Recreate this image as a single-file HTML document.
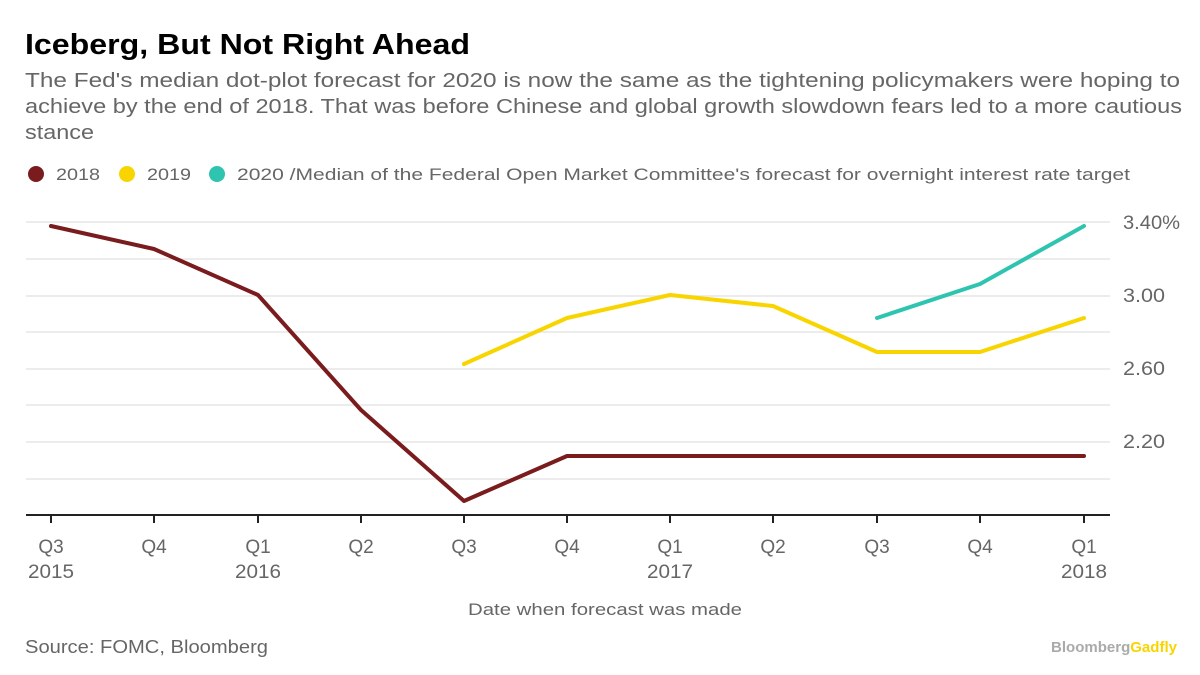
<!DOCTYPE html>
<html><head><style>
body{margin:0;width:1200px;height:670px;background:#fff;font-family:"Liberation Sans",sans-serif;overflow:hidden}
</style></head><body>
<svg width="1200" height="670" xmlns="http://www.w3.org/2000/svg" font-family="Liberation Sans, sans-serif">
<text x="25" y="54" font-size="29" font-weight="bold" fill="#000" textLength="445" lengthAdjust="spacingAndGlyphs">Iceberg, But Not Right Ahead</text>
<g fill="#666" font-size="20">
<text x="25" y="87" textLength="1155" lengthAdjust="spacingAndGlyphs">The Fed's median dot-plot forecast for 2020 is now the same as the tightening policymakers were hoping to</text>
<text x="25" y="113" textLength="1157" lengthAdjust="spacingAndGlyphs">achieve by the end of 2018. That was before Chinese and global growth slowdown fears led to a more cautious</text>
<text x="25" y="139" textLength="69" lengthAdjust="spacingAndGlyphs">stance</text>
</g>
<g font-size="17" fill="#666">
<circle cx="36" cy="174" r="8" fill="#7a1c1e"/><text x="56" y="180" textLength="44" lengthAdjust="spacingAndGlyphs">2018</text>
<circle cx="127" cy="174" r="8" fill="#f8d500"/><text x="147" y="180" textLength="44" lengthAdjust="spacingAndGlyphs">2019</text>
<circle cx="217" cy="174" r="8" fill="#2ec4b0"/><text x="237" y="180" textLength="893" lengthAdjust="spacingAndGlyphs">2020 /Median of the Federal Open Market Committee's forecast for overnight interest rate target</text>
</g>
<g stroke="#ececec" stroke-width="2">
<line x1="26" x2="1110" y1="222" y2="222"/><line x1="26" x2="1110" y1="259" y2="259"/><line x1="26" x2="1110" y1="296" y2="296"/><line x1="26" x2="1110" y1="332" y2="332"/><line x1="26" x2="1110" y1="369" y2="369"/><line x1="26" x2="1110" y1="405" y2="405"/><line x1="26" x2="1110" y1="442" y2="442"/><line x1="26" x2="1110" y1="479" y2="479"/>
</g>
<line x1="26" x2="1110" y1="515" y2="515" stroke="#222" stroke-width="2"/>
<g stroke="#222" stroke-width="2">
<line x1="51" x2="51" y1="515" y2="523"/><line x1="154" x2="154" y1="515" y2="523"/><line x1="258" x2="258" y1="515" y2="523"/><line x1="361" x2="361" y1="515" y2="523"/><line x1="464" x2="464" y1="515" y2="523"/><line x1="567" x2="567" y1="515" y2="523"/><line x1="670" x2="670" y1="515" y2="523"/><line x1="773" x2="773" y1="515" y2="523"/><line x1="877" x2="877" y1="515" y2="523"/><line x1="980" x2="980" y1="515" y2="523"/><line x1="1084" x2="1084" y1="515" y2="523"/>
</g>
<g font-size="19" fill="#666" text-anchor="middle">
<text x="51" y="553">Q3</text><text x="154" y="553">Q4</text><text x="258" y="553">Q1</text><text x="361" y="553">Q2</text><text x="464" y="553">Q3</text><text x="567" y="553">Q4</text><text x="670" y="553">Q1</text><text x="773" y="553">Q2</text><text x="877" y="553">Q3</text><text x="980" y="553">Q4</text><text x="1084" y="553">Q1</text>
<text x="51" y="578" textLength="46" lengthAdjust="spacingAndGlyphs">2015</text><text x="258" y="578" textLength="46" lengthAdjust="spacingAndGlyphs">2016</text><text x="670" y="578" textLength="46" lengthAdjust="spacingAndGlyphs">2017</text><text x="1084" y="578" textLength="46" lengthAdjust="spacingAndGlyphs">2018</text>
</g>
<text x="468" y="615" font-size="17" fill="#666" textLength="274" lengthAdjust="spacingAndGlyphs">Date when forecast was made</text>
<g font-size="19" fill="#666">
<text x="1123" y="229" textLength="57" lengthAdjust="spacingAndGlyphs">3.40%</text><text x="1123" y="302" textLength="42" lengthAdjust="spacingAndGlyphs">3.00</text><text x="1123" y="375" textLength="42" lengthAdjust="spacingAndGlyphs">2.60</text><text x="1123" y="448" textLength="42" lengthAdjust="spacingAndGlyphs">2.20</text>
</g>
<g fill="none" stroke-width="4" stroke-linejoin="round" stroke-linecap="round">
<polyline stroke="#7a1c1e" points="51,226 154,249 258,295 361,410 464,501 567,456 670,456 773,456 877,456 980,456 1084,456"/>
<polyline stroke="#f8d500" points="464,364 567,318 670,295 773,306 877,352 980,352 1084,318"/>
<polyline stroke="#2ec4b0" points="877,318 980,284 1084,226"/>
</g>
<text x="25" y="653" font-size="18" fill="#666" textLength="243" lengthAdjust="spacingAndGlyphs">Source: FOMC, Bloomberg</text>
<text x="1051" y="652" font-size="15" font-weight="bold" textLength="126" lengthAdjust="spacingAndGlyphs"><tspan fill="#aaa">Bloomberg</tspan><tspan fill="#f8d500">Gadfly</tspan></text>
</svg>
</body></html>
